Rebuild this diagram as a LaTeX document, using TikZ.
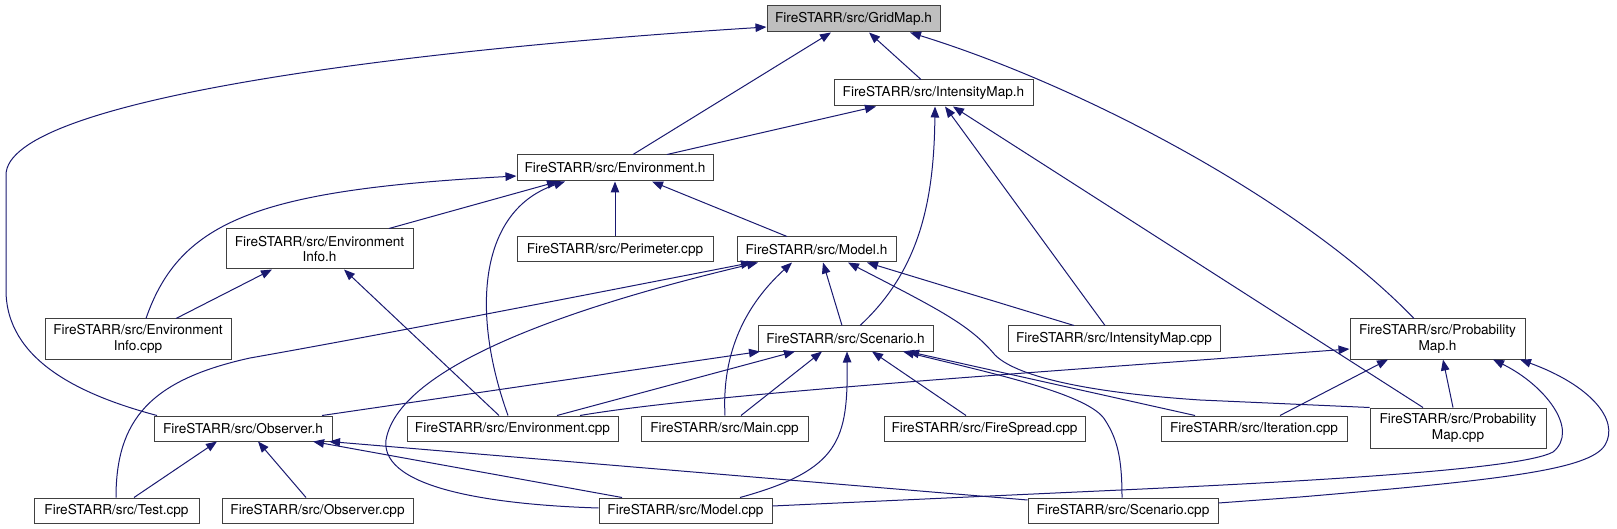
\documentclass[tikz,border=0pt]{standalone}
\usepackage{fontspec}
\setmainfont{TeX Gyre Heros}
\usetikzlibrary{arrows.meta}
\definecolor{navy}{RGB}{25,25,112}
\definecolor{boxc}{RGB}{64,64,64}
\definecolor{rootfill}{RGB}{191,191,191}
\tikzset{
  box/.style={draw=boxc, line width=1pt, fill=white, inner sep=0pt, align=center,
    minimum height=25pt, font=\fontsize{13.6}{15.2}\selectfont},
  box2/.style={box, minimum height=40pt},
  edge/.style={draw=navy, line width=1pt, {Triangle[length=11pt,width=8.5pt]}-}
}
\begin{document}
\begin{tikzpicture}[x=1pt,y=-1pt]
\useasboundingbox (0,0) rectangle (1617,529);
% nodes
\node[box, fill=rootfill, minimum width=173pt, minimum height=26pt] (gm) at (853.5,19) {FireSTARR/src/GridMap.h};
\node[box, minimum width=199pt, minimum height=26pt] (imh) at (933.5,93) {FireSTARR/src/IntensityMap.h};
\node[box, minimum width=196pt, minimum height=26pt] (envh) at (615,168) {FireSTARR/src/Environment.h};
\node[box, minimum width=196pt] (perim) at (615,249.5) {FireSTARR/src/Perimeter.cpp};
\node[box, minimum width=159pt] (modelh) at (816.5,249.5) {FireSTARR/src/Model.h};
\node[box2, minimum width=187pt] (envinfoh) at (319.5,249) {FireSTARR/src/Environment\\Info.h};
\node[box2, minimum width=186pt] (envinfocpp) at (138,339) {FireSTARR/src/Environment\\Info.cpp};
\node[box, minimum width=175pt] (scenh) at (845.5,338.5) {FireSTARR/src/Scenario.h};
\node[box, minimum width=212pt] (imcpp) at (1114,338.5) {FireSTARR/src/IntensityMap.cpp};
\node[box2, minimum width=175pt] (probh) at (1437.5,339) {FireSTARR/src/Probability\\Map.h};
\node[box, minimum width=178pt] (obsh) at (243,428.5) {FireSTARR/src/Observer.h};
\node[box, minimum width=211pt] (envcpp) at (512.5,428.5) {FireSTARR/src/Environment.cpp};
\node[box, minimum width=167pt] (maincpp) at (724.5,428.5) {FireSTARR/src/Main.cpp};
\node[box, minimum width=201pt] (firespread) at (984.5,428.5) {FireSTARR/src/FireSpread.cpp};
\node[box, minimum width=186pt] (iter) at (1254,428.5) {FireSTARR/src/Iteration.cpp};
\node[box2, minimum width=176pt] (probcpp) at (1458,428) {FireSTARR/src/Probability\\Map.cpp};
\node[box, minimum width=165pt] (test) at (116.5,510.5) {FireSTARR/src/Test.cpp};
\node[box, minimum width=191pt] (obscpp) at (317.5,510.5) {FireSTARR/src/Observer.cpp};
\node[box, minimum width=173pt] (modelcpp) at (685.5,510.5) {FireSTARR/src/Model.cpp};
\node[box, minimum width=190pt] (scencpp) at (1123,510.5) {FireSTARR/src/Scenario.cpp};
% GridMap.h
\draw[edge] (gm.west |- 0,27) .. controls (400,50) and (6,100) .. (6,175) -- (6,290) .. controls (6,360) and (80,395) .. (obsh.north -| 157,0);
\draw[edge] (gm.south -| 831,0) -- (envh.north -| 633,0);
\draw[edge] (gm.south -| 869,0) -- (imh.north -| 921,0);
\draw[edge] (gm.south -| 910,0) .. controls (1080,85) and (1300,200) .. (probh.north -| 1414,0);
% IntensityMap.h
\draw[edge] (imh.south -| 876,0) -- (envh.north -| 667,0);
\draw[edge] (imh.south -| 935,0) .. controls (934,200) and (920,270) .. (scenh.north -| 860,0);
\draw[edge] (imh.south -| 945,0) -- (imcpp.north -| 1105,0);
\draw[edge] (imh.south -| 953,0) -- (probcpp.north -| 1423,0);
% Environment.h
\draw[edge] (envh.west |- 0,176) .. controls (260,190) and (180,220) .. (envinfocpp.north -| 146,0);
\draw[edge] (envh.south -| 558,0) -- (envinfoh.north -| 389,0);
\draw[edge] (envh.south -| 565,0) .. controls (480,210) and (470,310) .. (envcpp.north -| 508,0);
\draw[edge] (envh.south) -- (perim.north);
\draw[edge] (envh.south -| 652,0) -- (modelh.north -| 787,0);
% EnvironmentInfo.h
\draw[edge] (envinfoh.south -| 272,0) -- (envinfocpp.north -| 176,0);
\draw[edge] (envinfoh.south -| 344,0) -- (envcpp.north -| 499,0);
% Model.h
\draw[edge] (modelh.south -| 752,0) .. controls (560,300) and (380,335) .. (250,358) .. controls (150,380) and (116,420) .. (test.north -| 116,0);
\draw[edge] (modelh.south -| 758,0) .. controls (600,300) and (400,360) .. (386,440) .. controls (380,490) and (500,505) .. (modelcpp.west |- 0,508);
\draw[edge] (modelh.south -| 792,0) .. controls (740,310) and (722,360) .. (maincpp.north -| 725,0);
\draw[edge] (modelh.south -| 823,0) -- (scenh.north -| 842,0);
\draw[edge] (modelh.south -| 848,0) .. controls (940,310) and (970,325) .. (995,355) .. controls (1015,375) and (1080,392) .. (1200,400) -- (probcpp.north west);
\draw[edge] (modelh.south -| 867,0) -- (imcpp.north -| 1074,0);
% Scenario.h
\draw[edge] (scenh.south -| 760,0) -- (obsh.north -| 322,0);
\draw[edge] (scenh.south -| 795,0) -- (envcpp.north -| 557,0);
\draw[edge] (scenh.south -| 822,0) -- (maincpp.north -| 741,0);
\draw[edge] (scenh.south -| 847,0) .. controls (848,440) and (840,470) .. (modelcpp.north -| 740,0);
\draw[edge] (scenh.south -| 872,0) -- (firespread.north -| 966,0);
\draw[edge] (scenh.south -| 908,0) -- (iter.north -| 1195,0);
\draw[edge] (scenh.south -| 903,0) .. controls (1000,375) and (1090,395) .. (1105,420) .. controls (1118,440) and (1122,460) .. (scencpp.north -| 1122,0);
% ProbabilityMap.h
\draw[edge] (probh.west |- 0,349) .. controls (1000,375) and (700,395) .. (envcpp.north -| 580,0);
\draw[edge] (probh.south -| 1388,0) -- (iter.north -| 1280,0);
\draw[edge] (probh.south -| 1443,0) -- (probcpp.north -| 1453,0);
\draw[edge] (probh.south -| 1493,0) .. controls (1545,385) and (1580,430) .. (1553,452) .. controls (1520,470) and (1300,482) .. (1077,492) -- (modelcpp.east |- 0,506);
\draw[edge] (probh.south -| 1520,0) .. controls (1590,385) and (1620,420) .. (1605,445) .. controls (1590,470) and (1500,480) .. (1300,497) -- (scencpp.east |- 0,503);
% Observer.h
\draw[edge] (obsh.south -| 217,0) -- (test.north -| 134,0);
\draw[edge] (obsh.south -| 258,0) -- (obscpp.north -| 306,0);
\draw[edge] (obsh.south -| 313,0) -- (modelcpp.north -| 622,0);
\draw[edge] (obsh.south -| 329,0) -- (scencpp.west |- 0,500);
\end{tikzpicture}
\end{document}
